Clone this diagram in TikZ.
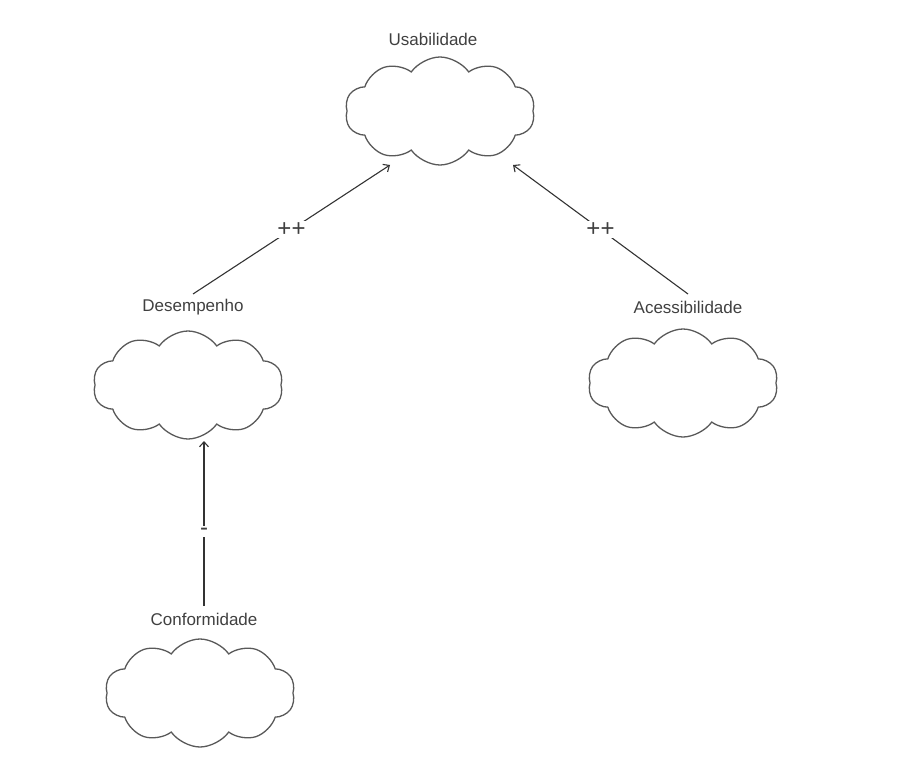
\documentclass[tikz,border=0pt]{standalone}
\usepackage{fontspec}
\setmainfont{Liberation Sans}
\usetikzlibrary{shapes.symbols,arrows.meta}
\begin{document}
\begin{tikzpicture}[x=1pt,y=-1pt,
  cloudbox/.style={cloud, cloud puffs=10, cloud puff arc=110, aspect=1.75, draw=black!65, line width=1.3pt, minimum width=190pt, minimum height=108pt, inner sep=0pt},
  lbl/.style={text=black!75, font=\fontsize{17}{20}\selectfont},
  conn/.style={draw=black!80, line width=1.1pt, -{Straight Barb[length=5pt,width=9pt]}},
  sign/.style={fill=white, text=black!75, font=\fontsize{24}{26}\selectfont, inner sep=2pt}]
\useasboundingbox (0,0) rectangle (919,776);
\node[cloudbox] (u) at (440,111) {};
\node[cloudbox] (d) at (188,385) {};
\node[cloudbox] (a) at (683,383) {};
\node[cloudbox] (c) at (200,693) {};
\node[lbl] (ul) at (433,39) {Usabilidade};
\node[lbl] (dl) at (193,307) {Desempenho};
\node[lbl] (al) at (688,307) {Acessibilidade};
\node[lbl] (cl) at (204,619) {Conformidade};
\coordinate (ds) at (193,294);
\coordinate (ut1) at (390,165);
\coordinate (as) at (688,294);
\coordinate (ut2) at (513,165);
\coordinate (cs) at (204,606);
\coordinate (dt) at (204,441);
\draw[conn] (ds) -- node[sign]{++} (ut1);
\draw[conn] (as) -- node[sign]{++} (ut2);
\draw[conn] (cs) -- node[sign, pos=0.45]{-} (dt);
\end{tikzpicture}
\end{document}
